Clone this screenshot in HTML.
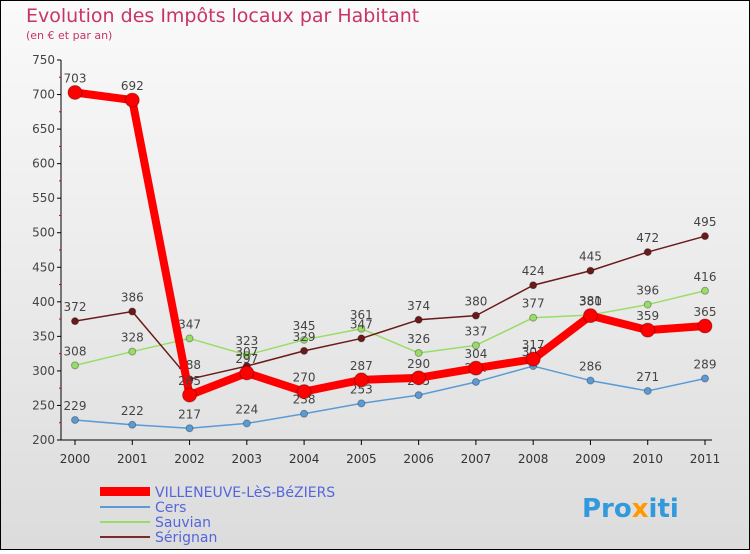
<!DOCTYPE html>
<html><head><meta charset="utf-8"><style>
body{margin:0;width:750px;height:550px;overflow:hidden;font-family:"DejaVu Sans","Liberation Sans",sans-serif;}
</style></head><body>
<svg width="750" height="550" xmlns="http://www.w3.org/2000/svg">
<defs><linearGradient id="bg" x1="0" y1="0" x2="0" y2="1"><stop offset="0" stop-color="#fafafa"/><stop offset="1" stop-color="#dcdcdc"/></linearGradient></defs>
<rect x="0.5" y="0.5" width="749" height="549" fill="url(#bg)" stroke="#000"/>
<text x="26" y="22" font-size="19" fill="#c8336a">Evolution des Impôts locaux par Habitant</text>
<text x="26" y="39" font-size="11" fill="#c8336a">(en € et par an)</text>
<g id="axes"></g><g id="series"></g>
<g>
<rect x="100" y="487" width="50" height="9" fill="#ff0000"/>
<text x="155" y="497" font-size="14" fill="#5566dd">VILLENEUVE-LèS-BéZIERS</text>
<line x1="100" y1="507" x2="150" y2="507" stroke="#5b9bd5" stroke-width="2"/>
<text x="155" y="512" font-size="14" fill="#5566dd">Cers</text>
<line x1="100" y1="522" x2="150" y2="522" stroke="#99dd66" stroke-width="2"/>
<text x="155" y="527" font-size="14" fill="#5566dd">Sauvian</text>
<line x1="100" y1="537" x2="150" y2="537" stroke="#7a2a2a" stroke-width="2"/>
<text x="155" y="542" font-size="14" fill="#5566dd">Sérignan</text>
</g>
<text x="582" y="517" font-size="26" font-weight="bold" fill="#3399dd">Pro<tspan fill="#ff9900">x</tspan>iti</text>
</svg>
<script>
const years=["2000","2001","2002","2003","2004","2005","2006","2007","2008","2009","2010","2011"];
const yTicks=[200,250,300,350,400,450,500,550,600,650,700,750];
const villeneuve=[703,692,265,297,270,287,290,304,317,380,359,365];
const cers=[229,222,217,224,238,253,265,284,307,286,271,289];
const sauvian=[308,328,347,323,345,361,326,337,377,381,396,416];
const serignan=[372,386,288,307,329,347,374,380,424,445,472,495];
const NS="http://www.w3.org/2000/svg";
const X=i=>75+i*(630/11);
const Y=v=>440-(v-200)*(380/550);
function mk(t,a,p){const e=document.createElementNS(NS,t);for(const k in a)e.setAttribute(k,a[k]);p.appendChild(e);return e;}
const ax=document.getElementById('axes');
let l=mk('line',{x1:61,y1:60,x2:61,y2:440,stroke:'#000'},ax);

l=mk('line',{x1:61,y1:440,x2:712,y2:440,stroke:'#000'},ax);

yTicks.forEach(v=>{const y=Y(v);
 mk('line',{x1:57,y1:y,x2:61,y2:y,stroke:'#000'},ax);
 if(v<750)mk('line',{x1:59,y1:y-17.3,x2:61,y2:y-17.3,stroke:'#d00'},ax);
 const t=mk('text',{x:55,y:y+4,'text-anchor':'end','font-size':12,fill:'#444'},ax);t.textContent=v;
 });
years.forEach((yr,i)=>{const x=X(i);
 mk('line',{x1:x,y1:440,x2:x,y2:445,stroke:'#000'},ax);
 const t=mk('text',{x:x,y:463,'text-anchor':'middle','font-size':12,fill:'#333'},ax);t.textContent=yr;
 });
const sg=document.getElementById('series');
function draw(name,vals,color,w,r,labelBelow){
 const g=mk('g',{},sg);
 
 mk('polyline',{points:vals.map((v,i)=>X(i)+','+Y(v)).join(' '),fill:'none',stroke:color,'stroke-width':w,'stroke-linejoin':'round'},g);
 vals.forEach((v,i)=>{
  const c=mk('circle',{cx:X(i),cy:Y(v),r:r,fill:color,stroke:'rgba(0,0,0,0.3)','stroke-width':1},g);
  
  const t=mk('text',{x:X(i),y:Y(v)+(labelBelow?16:-10),'text-anchor':'middle','font-size':12,fill:'#444'},g);t.textContent=v;
  });
}
draw('cers',cers,'#5b9bd5',1.5,3.5,false);
draw('sauvian',sauvian,'#99dd66',1.5,3.5,false);
draw('serignan',serignan,'#6b1a1a',1.5,3.5,false);
draw('villeneuve',villeneuve,'#ff0000',8,7,false);
</script>
</body></html>
